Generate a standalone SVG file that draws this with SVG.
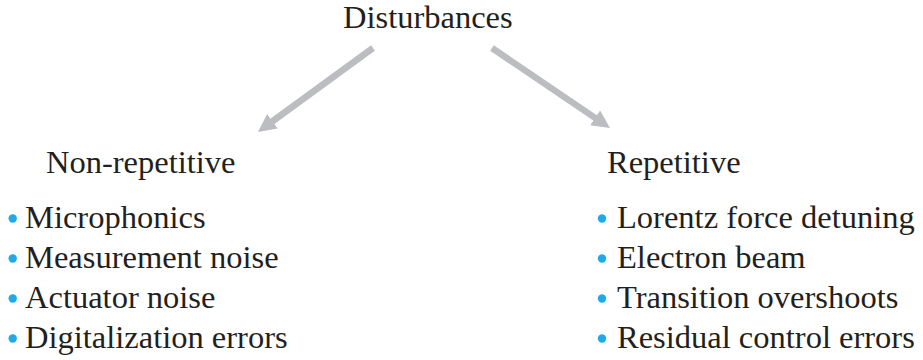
<svg xmlns="http://www.w3.org/2000/svg" width="923" height="360" viewBox="0 0 923 360">
<style>
text{font-family:"Liberation Serif","Times New Roman",serif;font-size:32.5px;fill:#231f20}
.b{fill:#1eaae7}
.c{stroke:#bcbdc0;stroke-width:6.5;fill:none}
</style>
<defs>
<marker id="ah" markerUnits="userSpaceOnUse" markerWidth="30" markerHeight="30" refX="8" refY="9" orient="auto">
<path d="M0,0 L18,9 L0,18 Z" fill="#bcbdc0"/>
</marker>
</defs>
<rect width="923" height="360" fill="#fff"/>
<g id="connectors">
<line class="c" x1="373" y1="48" x2="266" y2="126" marker-end="url(#ah)"/>
<line class="c" x1="492" y1="48" x2="601.7" y2="122.4" marker-end="url(#ah)"/>
</g>
<g id="disturbances"><text x="343" y="28">Disturbances</text></g>
<g id="non-repetitive">
<text x="46" y="173">Non-repetitive</text>
<circle class="b" cx="12.7" cy="218.5" r="4.2"/><text x="25" y="228">Microphonics</text>
<circle class="b" cx="12.7" cy="258.5" r="4.2"/><text x="25" y="268">Measurement noise</text>
<circle class="b" cx="12.7" cy="298.5" r="4.2"/><text x="25" y="308">Actuator noise</text>
<circle class="b" cx="12.7" cy="338.5" r="4.2"/><text x="25" y="348">Digitalization errors</text>
</g>
<g id="repetitive">
<text x="607" y="173">Repetitive</text>
<circle class="b" cx="602" cy="218.5" r="4.2"/><text x="617" y="228">Lorentz force detuning</text>
<circle class="b" cx="602" cy="258.5" r="4.2"/><text x="617" y="268">Electron beam</text>
<circle class="b" cx="602" cy="298.5" r="4.2"/><text x="617" y="308">Transition overshoots</text>
<circle class="b" cx="602" cy="338.5" r="4.2"/><text x="617" y="348">Residual control errors</text>
</g>
</svg>
